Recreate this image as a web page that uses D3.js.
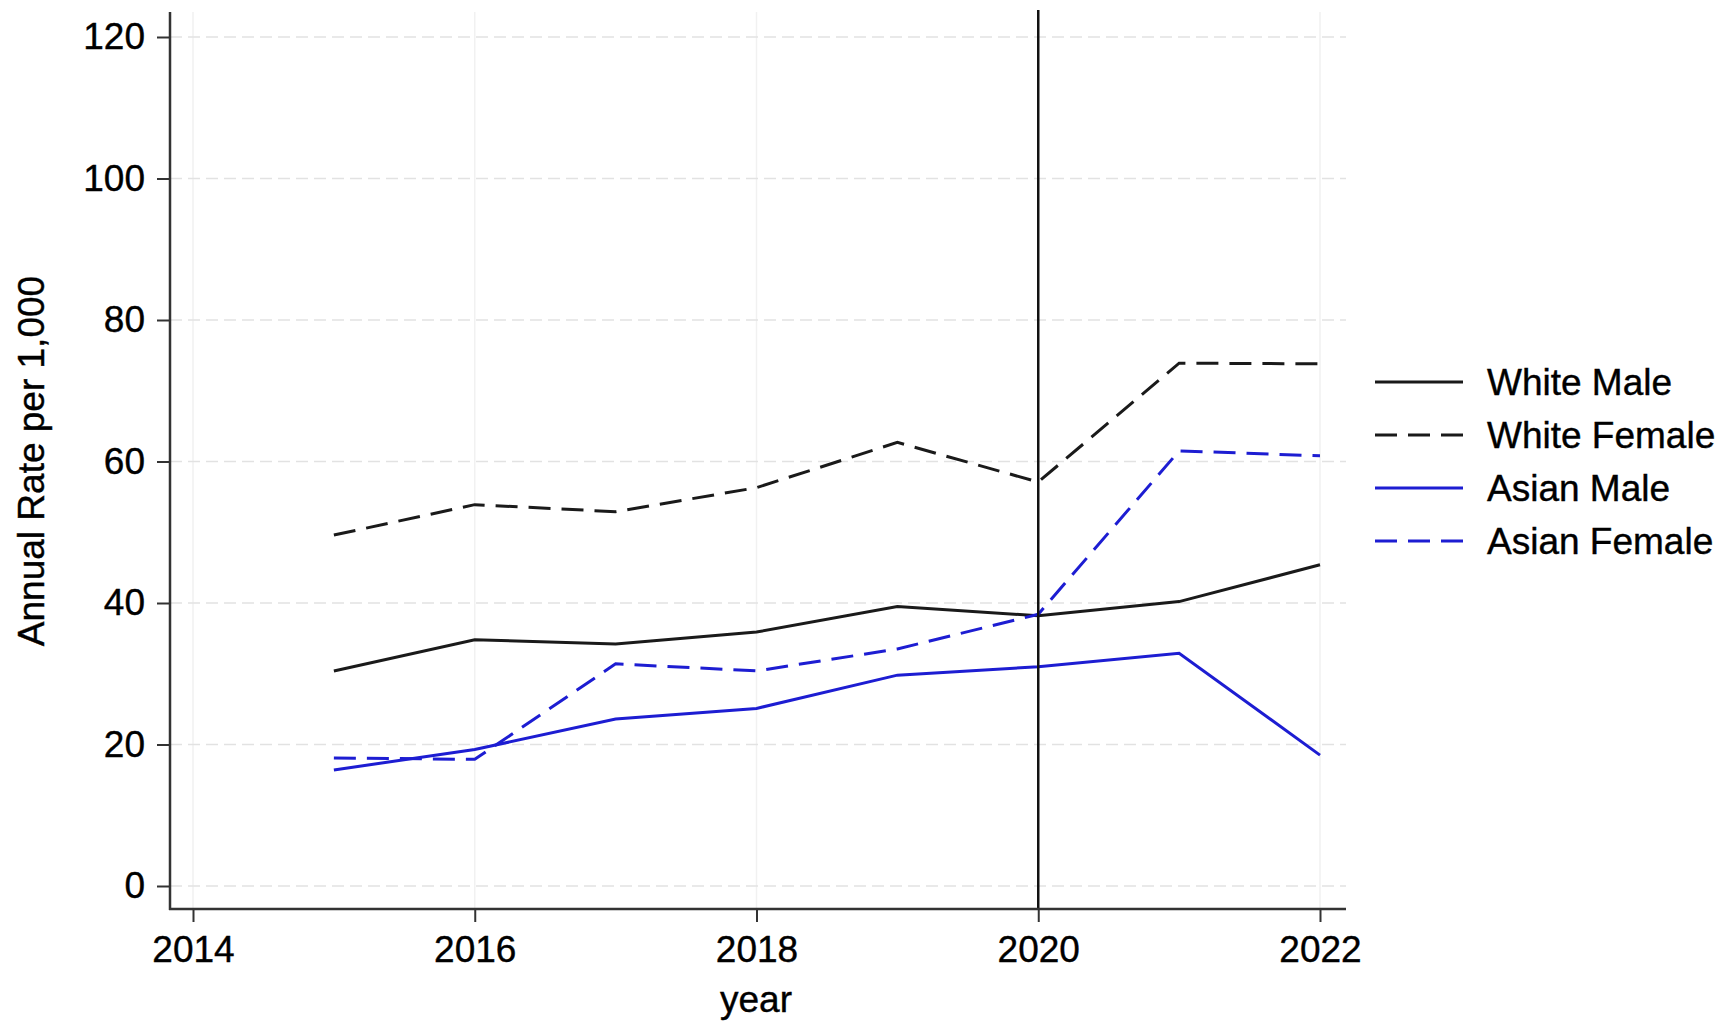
<!DOCTYPE html>
<html>
<head>
<meta charset="utf-8">
<script src="https://cdn.jsdelivr.net/npm/d3@7"></script>
<style>
    body { margin: 0; background: #fff; }
    svg text { font-family: "Liberation Sans", Arial, Helvetica, sans-serif; fill: #000; stroke: #000; stroke-width: 0.4px; }
    .axis path { display: none; }
    .axis line { stroke: #333; stroke-width: 2; }
</style>
</head>
<body>
<script>
//data
var years = [2015, 2016, 2017, 2018, 2019, 2020, 2021, 2022];
var whiteMale = [30.4, 34.8, 34.2, 35.9, 39.5, 38.2, 40.2, 45.4];
var whiteFemale = [49.6, 53.9, 52.9, 56.3, 62.7, 57.1, 73.9, 73.8];
var asianMale = [16.4, 19.3, 23.6, 25.1, 29.8, 31.0, 32.9, 18.5];
var asianFemale = [18.1, 17.9, 31.4, 30.4, 33.5, 38.4, 61.5, 60.8];
var seriesNames = ["White Male", "White Female", "Asian Male", "Asian Female"];
var xTicks = [2014, 2016, 2018, 2020, 2022];
var yTicks = [0, 20, 40, 60, 80, 100, 120];
var markYear = 2020;

//svg size
var w = 1729, h = 1027;

var svg = d3.select("body")
    .append("svg")
    .attr("width", w)
    .attr("height", h);

//scales
var x = d3.scaleLinear()
    .domain([2014, 2022])
    .range([193, 1320]);

var y = d3.scaleLinear()
    .domain([0, 120])
    .range([886, 37]);

//plot region edges (not "top": that one belongs to window)
var plotLeft = 170, plotRight = 1346, plotTop = 12, plotBottom = 909;

//gridlines
var vGrid = svg.selectAll(".vGrid")
    .data(xTicks)
    .enter()
    .append("line")
    .attr("class", "vGrid")
    .attr("x1", function(d){ return x(d); })
    .attr("x2", function(d){ return x(d); })
    .attr("y1", plotTop)
    .attr("y2", plotBottom)
    .style("stroke", "#f1f1f1")
    .style("stroke-width", 1.5);

var hGrid = svg.selectAll(".hGrid")
    .data(yTicks)
    .enter()
    .append("line")
    .attr("class", "hGrid")
    .attr("x1", plotLeft)
    .attr("x2", plotRight)
    .attr("y1", function(d){ return y(d); })
    .attr("y2", function(d){ return y(d); })
    .style("stroke", "#e2e2e2")
    .style("stroke-width", 1.5)
    .style("stroke-dasharray", "12,6");

//series table
var series = [
    { name: seriesNames[0], values: whiteMale, color: "#1a1a1a", dash: null },
    { name: seriesNames[1], values: whiteFemale, color: "#1a1a1a", dash: "22,11" },
    { name: seriesNames[2], values: asianMale, color: "#1d1dd2", dash: null },
    { name: seriesNames[3], values: asianFemale, color: "#1d1dd2", dash: "22,11" }
];

var line = d3.line()
    .x(function(d, i){ return x(years[i]); })
    .y(function(d){ return y(d); });

var lines = svg.selectAll(".lines")
    .data(series)
    .enter()
    .append("path")
    .attr("class", "lines")
    .attr("d", function(d){ return line(d.values); })
    .style("fill", "none")
    .style("stroke", function(d){ return d.color; })
    .style("stroke-width", 3)
    .style("stroke-dasharray", function(d){ return d.dash; });

//vertical reference line at 2020
var refLine = svg.append("line")
    .attr("class", "refLine")
    .attr("x1", x(markYear))
    .attr("x2", x(markYear))
    .attr("y1", 10)
    .attr("y2", plotBottom)
    .style("stroke", "#111")
    .style("stroke-width", 2.5);

//axes
var yAxis = svg.append("g")
    .attr("class", "axis")
    .attr("transform", "translate(" + plotLeft + ",0)")
    .call(d3.axisLeft(y).tickValues(yTicks).tickSize(13).tickPadding(12))
    .style("font-size", "37px");

var xAxis = svg.append("g")
    .attr("class", "axis")
    .attr("transform", "translate(0," + plotBottom + ")")
    .call(d3.axisBottom(x).tickValues(xTicks).tickFormat(d3.format("d")).tickSize(13).tickPadding(14))
    .style("font-size", "37px");

svg.selectAll(".axis text").style("fill", "#000");

//axis lines
var yLine = svg.append("line")
    .attr("x1", plotLeft).attr("x2", plotLeft)
    .attr("y1", plotTop).attr("y2", plotBottom + 1)
    .style("stroke", "#333")
    .style("stroke-width", 2.5);

var xLine = svg.append("line")
    .attr("x1", plotLeft - 1).attr("x2", plotRight)
    .attr("y1", plotBottom).attr("y2", plotBottom)
    .style("stroke", "#333")
    .style("stroke-width", 2.5);

//axis titles
var xTitle = svg.append("text")
    .attr("text-anchor", "middle")
    .attr("x", 756)
    .attr("y", 1012)
    .style("font-size", "37px")
    .text("year");

var yTitle = svg.append("text")
    .attr("text-anchor", "middle")
    .attr("transform", "translate(44,461) rotate(-90)")
    .style("font-size", "37px")
    .text("Annual Rate per 1,000");

//legend
var legend = svg.selectAll(".legend")
    .data(series)
    .enter()
    .append("g")
    .attr("class", "legend")
    .attr("transform", function(d, i){
        return "translate(1375," + (382 + i * 53) + ")";
    });

legend.append("line")
    .attr("x1", 0)
    .attr("x2", 88)
    .style("stroke", function(d){ return d.color; })
    .style("stroke-width", 3)
    .style("stroke-dasharray", function(d){ return d.dash; });

legend.append("text")
    .attr("x", 112)
    .attr("y", 13)
    .style("font-size", "37px")
    .text(function(d){ return d.name; });
</script>
</body>
</html>
